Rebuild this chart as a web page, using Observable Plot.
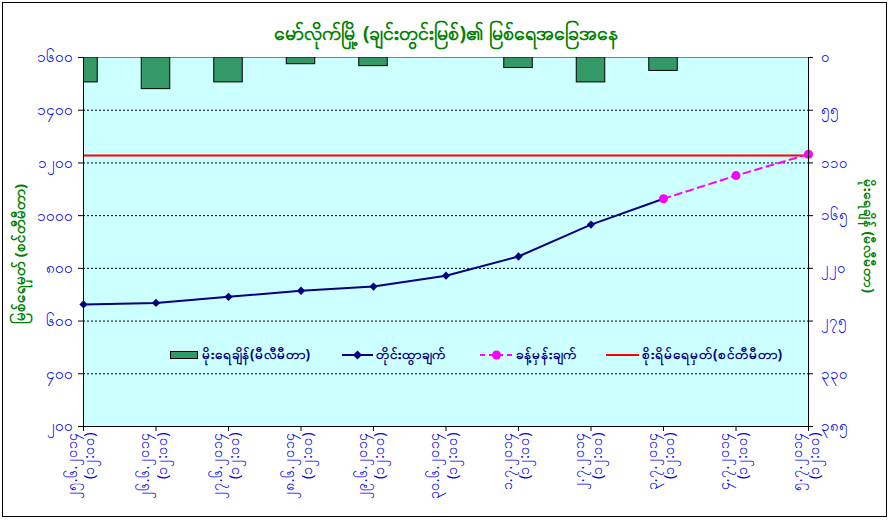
<!DOCTYPE html>
<html>
<head>
<meta charset="utf-8">
<script src="https://cdn.jsdelivr.net/npm/d3@7"></script>
<script src="https://cdn.jsdelivr.net/npm/@observablehq/plot@0.6"></script>
<style>
  html, body { margin: 0; padding: 0; background: #fff; }
  #wrap { position: relative; width: 891px; height: 521px; overflow: hidden; }
  #frame { position: absolute; left: 2px; top: 2px; width: 885px; height: 515px; border: 1px solid #000; box-sizing: border-box; pointer-events: none; }
  #legend { position: absolute; left: 0; top: 345px; width: 891px; height: 20px; font: bold 13.5px "Noto Sans", "DejaVu Sans", sans-serif; color: #000080; }
  .li { position: absolute; top: 0; height: 20px; display: flex; align-items: center; white-space: nowrap; }
  .li svg { margin-right: 3px; }
</style>
</head>
<body>
<div id="wrap"><div id="chart"></div><div id="legend"></div><div id="frame"></div></div>
<script>
// ---- data ----
const title = "မော်လိုက်မြို့ (ချင်းတွင်းမြစ်)၏ မြစ်ရေအခြေအနေ";
const leftTitle = "မြစ်ရေမှတ် (စင်တီမီတာ)";
const rightTitle = "မိုးရေချိန် (မီလီမီတာ)";
const dates = ["၂၅.၆.၂၀၁၄","၂၆.၆.၂၀၁၄","၂၇.၆.၂၀၁၄","၂၈.၆.၂၀၁၄","၂၉.၆.၂၀၁၄","၃၀.၆.၂၀၁၄","၁.၇.၂၀၁၄","၂.၇.၂၀၁၄","၃.၇.၂၀၁၄","၄.၇.၂၀၁၄","၅.၇.၂၀၁၄"];
const times = ["(၁၂:၀၀)","(၁၂:၀၀)","(၁၂:၀၀)","(၁၂:၀၀)","(၁၂:၀၀)","(၁၂:၀၀)","(၁၂:၀၀)","(၁၂:၀၀)","(၁၂:၀၀)","(၁၂:၀၀)","(၁၂:၀၀)"];
const observed = [663, 669, 692, 715, 731, 772, 845, 966, 1064, null, null];
const forecast = [null, null, null, null, null, null, null, null, 1064, 1152, 1233];
const rainfall = [26, 33, 26, 7, 9, 0, 11, 26, 14, null, null];
const dangerLevel = 1228;
const leftTicks = [200, 400, 600, 800, 1000, 1200, 1400, 1600];
const leftLabels = ["၂၀၀","၄၀၀","၆၀၀","၈၀၀","၁၀၀၀","၁၂၀၀","၁၄၀၀","၁၆၀၀"];
const rightTicks = [0, 55, 110, 165, 220, 275, 330, 385];
const rightLabels = ["၀","၅၅","၁၁၀","၁၆၅","၂၂၀","၂၇၅","၃၃၀","၃၈၅"];
const legendLabels = ["မိုးရေချိန်(မီလီမီတာ)", "တိုင်းထွာချက်", "ခန့်မှန်းချက်", "စိုးရိမ်ရေမှတ်(စင်တီမီတာ)"];

// ---- derived ----
const yMin = 200, yMax = 1600, rMax = 385;
const toLeft = r => yMax - r * (yMax - yMin) / rMax; // rainfall (reversed, secondary) -> primary units
const idx = dates.map((d, i) => i);
const obsData = idx.filter(i => observed[i] != null).map(i => ({i, v: observed[i]}));
const fcData = idx.filter(i => forecast[i] != null).map(i => ({i, v: forecast[i]}));
const rainData = idx.filter(i => rainfall[i] != null && rainfall[i] > 0).map(i => ({i, r: rainfall[i]}));
const xLabels = idx.map(i => ({i, t: dates[i] + "\n" + times[i]}));
const leftTickData = leftTicks.map((v, k) => ({v, t: leftLabels[k]}));
const rightTickData = rightTicks.map((r, k) => ({v: toLeft(r), t: rightLabels[k]}));
const gridTicks = leftTicks.filter(v => v > yMin && v < yMax);

const FONT = '"Noto Sans", "DejaVu Sans", sans-serif';
const BLUE = "#0000ee";
const GREEN = "#008000";

const chart = Plot.plot({
  width: 891,
  height: 521,
  marginTop: 57,
  marginBottom: 95,
  marginLeft: 83,
  marginRight: 83,
  style: {fontFamily: FONT, background: "transparent", overflow: "visible"},
  x: {type: "linear", domain: [0, dates.length - 1], axis: null},
  y: {type: "linear", domain: [yMin, yMax], axis: null},
  marks: [
    Plot.frame({fill: "#ccffff", stroke: null}),
    Plot.ruleY(gridTicks, {stroke: "#000", strokeWidth: 1, strokeDasharray: "2,2"}),
    Plot.ruleY([yMax], {stroke: "#808080", strokeWidth: 1}),
    // rainfall bars (secondary axis, reversed from top)
    Plot.rect(rainData, {
      x1: d => d.i - 0.5, x2: d => d.i + 0.5,
      y1: yMax, y2: d => toLeft(d.r),
      insetLeft: 22, insetRight: 22,
      fill: "#339966", stroke: "#000", strokeWidth: 1, clip: true
    }),
    // danger level
    Plot.ruleY([dangerLevel], {stroke: "#ff0000", strokeWidth: 2}),
    // forecast
    Plot.line(fcData, {x: "i", y: "v", stroke: "#ff00ff", strokeWidth: 2, strokeDasharray: "7,5"}),
    // observed
    Plot.line(obsData, {x: "i", y: "v", stroke: "#000080", strokeWidth: 2}),
    Plot.dot(obsData.slice(0, obsData.length - 1), {x: "i", y: "v", symbol: "square", rotate: 45, r: 3.3, fill: "#000080", stroke: null}),
    Plot.dot(fcData, {x: "i", y: "v", r: 4.5, fill: "#ff00ff", stroke: null}),
    // axis lines
    Plot.ruleX([0], {stroke: "#000", strokeWidth: 1}),
    Plot.ruleX([dates.length - 1], {stroke: "#000", strokeWidth: 1}),
    Plot.ruleY([yMin], {stroke: "#000", strokeWidth: 1}),
    // left ticks
    Plot.ruleY(leftTicks, {x1: 0, x2: 0, insetLeft: -5, stroke: "#000"}),
    Plot.text(leftTickData, {y: "v", text: "t", frameAnchor: "left", textAnchor: "end", lineAnchor: "middle", dx: -11, fill: BLUE, fontSize: 15.5}),
    // right ticks
    Plot.ruleY(rightTickData, {y: "v", x1: dates.length - 1, x2: dates.length - 1, insetRight: -5, stroke: "#000"}),
    Plot.text(rightTickData, {y: "v", text: "t", frameAnchor: "right", textAnchor: "start", lineAnchor: "middle", dx: 12, fill: BLUE, fontSize: 15}),
    // x ticks
    Plot.ruleX(idx, {y1: yMin, y2: yMin, insetBottom: -5, stroke: "#000"}),
    Plot.text(xLabels, {x: "i", text: "t", frameAnchor: "bottom", rotate: -90, textAnchor: "end", lineAnchor: "middle", lineHeight: 1.2, dx: -3.5, dy: 6, fill: BLUE, fontSize: 14.5}),
    // titles
    Plot.text([title], {frameAnchor: "top", textAnchor: "middle", lineAnchor: "middle", dy: -24, fill: GREEN, fontSize: 19.5, fontWeight: "bold"}),
    Plot.text([leftTitle], {frameAnchor: "left", textAnchor: "middle", lineAnchor: "middle", dx: -63, dy: 12, rotate: -90, fill: GREEN, fontSize: 15, fontWeight: "bold"}),
    Plot.text([rightTitle], {frameAnchor: "right", textAnchor: "middle", lineAnchor: "middle", dx: 60, dy: -6, rotate: 90, fill: GREEN, fontSize: 14, fontWeight: "bold"})
  ]
});
document.getElementById("chart").appendChild(chart);

// ---- legend (inside plot area) ----
const legend = document.getElementById("legend");
const items = [
  {left: 170, sw: '<svg width="29" height="10"><rect x="0.5" y="1.5" width="27" height="7" fill="#339966" stroke="#000"/></svg>'},
  {left: 342, sw: '<svg width="31" height="12"><line x1="0" y1="6" x2="31" y2="6" stroke="#000080" stroke-width="2"/><path d="M15.5,1.5 L20,6 L15.5,10.5 L11,6Z" fill="#000080"/></svg>'},
  {left: 480, sw: '<svg width="33" height="12"><line x1="0" y1="6" x2="33" y2="6" stroke="#ff00ff" stroke-width="2" stroke-dasharray="5,4"/><circle cx="16.5" cy="6" r="4.5" fill="#ff00ff"/></svg>'},
  {left: 606, sw: '<svg width="33" height="12"><line x1="0" y1="6" x2="33" y2="6" stroke="#ff0000" stroke-width="2"/></svg>'}
];
items.forEach((it, k) => {
  const d = document.createElement("div");
  d.className = "li";
  d.style.left = it.left + "px";
  d.innerHTML = it.sw + "<span></span>";
  d.querySelector("span").textContent = legendLabels[k];
  legend.appendChild(d);
});
</script>
</body>
</html>
